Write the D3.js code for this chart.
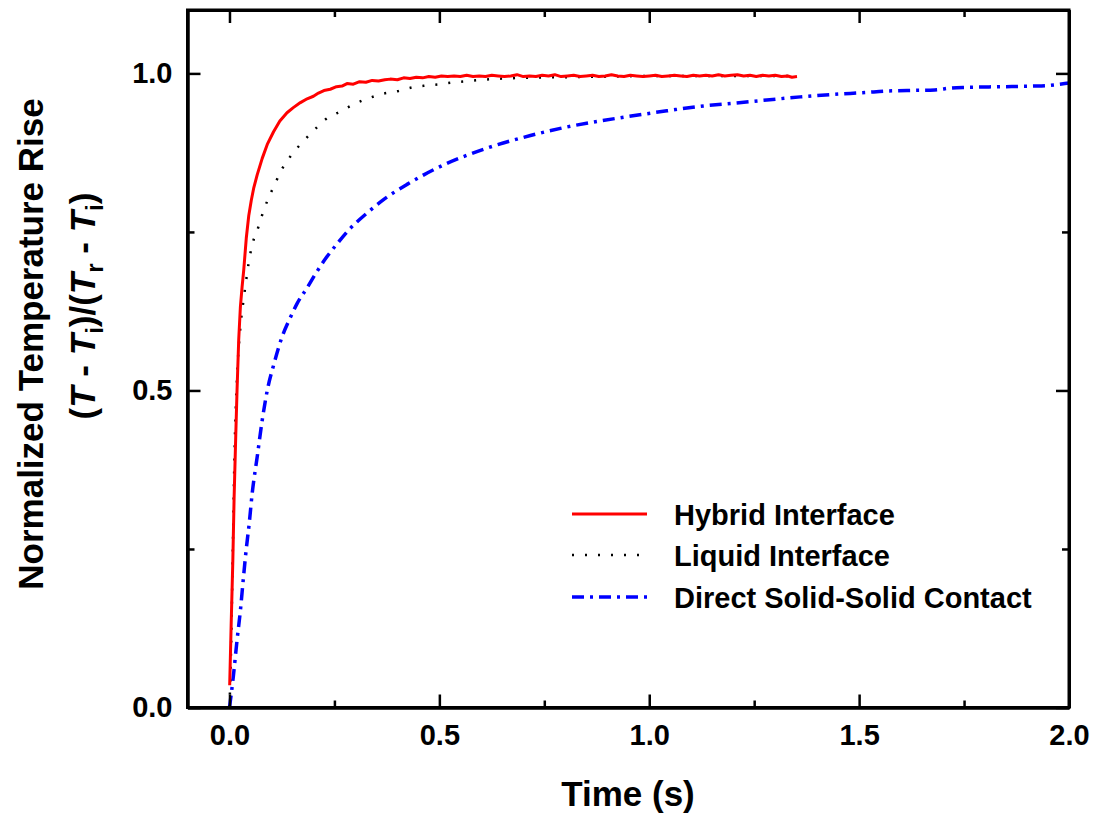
<!DOCTYPE html>
<html>
<head>
<meta charset="utf-8">
<script src="https://cdn.jsdelivr.net/npm/d3@7"></script>
<style>
  body { margin: 0; background: #fff; }
  svg text { font-family: "Liberation Sans", Arial, Helvetica, sans-serif; font-weight: bold; }
</style>
</head>
<body>
<svg id="chart" width="1094" height="818"></svg>
<script>
// ---- data: [time (s), normalized rise] ----
const hybrid = [
  [0.0005, 0.035], [0.004, 0.13], [0.008, 0.232], [0.011, 0.33], [0.015, 0.43],
  [0.018, 0.50], [0.022, 0.58], [0.026, 0.632], [0.030, 0.663], [0.034, 0.69],
  [0.040, 0.74], [0.046, 0.776], [0.052, 0.80], [0.058, 0.820], [0.066, 0.84],
  [0.078, 0.866], [0.090, 0.888], [0.105, 0.908], [0.120, 0.925], [0.137, 0.938],
  [0.152, 0.946], [0.169, 0.954], [0.185, 0.960], [0.200, 0.964], [0.212, 0.969],
  [0.225, 0.973], [0.240, 0.975], [0.255, 0.979], [0.268, 0.980], [0.280, 0.984],
  [0.295, 0.983], [0.310, 0.987], [0.325, 0.986], [0.340, 0.989], [0.355, 0.988],
  [0.370, 0.990], [0.383, 0.991], [0.400, 0.990], [0.415, 0.993], [0.430, 0.992],
  [0.445, 0.994], [0.460, 0.993], [0.475, 0.995], [0.490, 0.994], [0.505, 0.996],
  [0.520, 0.995], [0.535, 0.996], [0.550, 0.995], [0.565, 0.997], [0.580, 0.995],
  [0.595, 0.996], [0.610, 0.995], [0.625, 0.997], [0.640, 0.996], [0.655, 0.995],
  [0.670, 0.996], [0.685, 0.998], [0.700, 0.995], [0.715, 0.996], [0.730, 0.995],
  [0.745, 0.997], [0.760, 0.996], [0.775, 0.998], [0.790, 0.995], [0.805, 0.996],
  [0.820, 0.997], [0.835, 0.995], [0.850, 0.996], [0.865, 0.997], [0.880, 0.995],
  [0.895, 0.996], [0.910, 0.998], [0.925, 0.996], [0.940, 0.995], [0.955, 0.997],
  [0.970, 0.996], [0.985, 0.995], [1.000, 0.996], [1.015, 0.997], [1.030, 0.995],
  [1.045, 0.996], [1.060, 0.997], [1.075, 0.996], [1.090, 0.995], [1.105, 0.997],
  [1.120, 0.996], [1.135, 0.997], [1.150, 0.996], [1.165, 0.998], [1.180, 0.996],
  [1.195, 0.997], [1.210, 0.998], [1.225, 0.996], [1.240, 0.997], [1.255, 0.995],
  [1.270, 0.997], [1.285, 0.996], [1.300, 0.997], [1.315, 0.995], [1.330, 0.996],
  [1.340, 0.994], [1.352, 0.995]
];

const liquid = [
  [0.000, 0.00], [0.004, 0.10], [0.008, 0.25], [0.012, 0.40], [0.018, 0.52],
  [0.026, 0.60], [0.034, 0.645], [0.038, 0.665], [0.048, 0.710], [0.056, 0.734],
  [0.068, 0.756], [0.079, 0.779], [0.092, 0.802], [0.108, 0.825], [0.124, 0.848],
  [0.145, 0.869], [0.173, 0.891], [0.201, 0.910], [0.230, 0.928], [0.264, 0.940],
  [0.298, 0.952], [0.332, 0.961], [0.366, 0.968], [0.401, 0.972], [0.435, 0.978],
  [0.469, 0.981], [0.502, 0.983], [0.536, 0.986], [0.570, 0.988], [0.604, 0.990],
  [0.700, 0.993], [0.800, 0.994], [0.900, 0.995], [1.000, 0.996], [1.200, 0.996],
  [1.352, 0.996]
];

const direct = [
  [0.000, 0.000], [0.004, 0.020], [0.009, 0.048], [0.018, 0.106], [0.026, 0.153],
  [0.033, 0.203], [0.040, 0.250], [0.047, 0.290], [0.054, 0.337], [0.066, 0.395],
  [0.078, 0.453], [0.090, 0.500], [0.106, 0.542], [0.125, 0.584], [0.145, 0.615],
  [0.161, 0.637], [0.185, 0.662], [0.207, 0.686], [0.229, 0.708], [0.256, 0.731],
  [0.284, 0.753], [0.328, 0.780], [0.367, 0.801], [0.423, 0.825], [0.463, 0.840],
  [0.518, 0.858], [0.566, 0.871], [0.617, 0.883], [0.717, 0.902], [0.800, 0.915],
  [0.883, 0.925], [0.950, 0.932], [1.042, 0.941], [1.120, 0.948], [1.201, 0.953],
  [1.280, 0.958], [1.360, 0.963], [1.440, 0.967], [1.518, 0.970], [1.560, 0.972],
  [1.614, 0.973], [1.680, 0.974], [1.720, 0.977], [1.756, 0.978], [1.836, 0.979],
  [1.914, 0.980], [1.950, 0.981], [1.990, 0.984], [2.000, 0.985]
];

const xMajor = [0, 0.5, 1.0, 1.5, 2.0];
const xMinor = [0.25, 0.75, 1.25, 1.75];
const yMajor = [0, 0.5, 1.0];
const yMinor = [0.25, 0.75];

const seriesNames = ["Hybrid Interface", "Liquid Interface", "Direct Solid-Solid Contact"];

// ---- layout ----
const plot = { left: 187.5, right: 1069, top: 10, bottom: 707.5 };

const svg = d3.select("#chart");

const x = d3.scaleLinear().domain([-0.1, 2.0]).range([plot.left, plot.right]);
const y = d3.scaleLinear().domain([0, 1.1]).range([plot.bottom, plot.top]);

const styles = [
  { color: "#ff0000", width: 3, dash: null },
  { color: "#000000", width: 2.5, dash: "2,11" },
  { color: "#0000ff", width: 3.5, dash: "12,6,3,6" }
];

const line = d3.line().x(d => x(d[0])).y(d => y(d[1]));
const smoothLine = d3.line().curve(d3.curveMonotoneX).x(d => x(d[0])).y(d => y(d[1]));

// curves (blue and black first so red sits on top, like the original)
const curves = svg.append("g");
[[direct, 2, smoothLine], [liquid, 1, smoothLine], [hybrid, 0, line]].forEach(([data, k, gen]) => {
  const s = styles[k];
  curves.append("path")
    .datum(data)
    .attr("d", gen)
    .attr("fill", "none")
    .attr("stroke", s.color)
    .attr("stroke-width", s.width)
    .attr("stroke-dasharray", s.dash)
    .attr("stroke-linejoin", "round");
});

// axes: ticks point into the plot on all four sides
function styleAxis(g) {
  g.select(".domain").attr("stroke-width", 3);
  g.selectAll(".tick line").attr("stroke-width", 2.5);
  g.selectAll(".tick text")
    .attr("font-size", 29)
    .attr("fill", "#000");
}

const axisG = svg.append("g");

axisG.append("g")
  .attr("transform", `translate(0,${plot.bottom})`)
  .call(d3.axisBottom(x).tickValues(xMajor).tickSize(-13).tickSizeOuter(0)
    .tickPadding(17).tickFormat(d3.format(".1f")))
  .call(styleAxis);
axisG.append("g")
  .attr("transform", `translate(0,${plot.bottom})`)
  .call(d3.axisBottom(x).tickValues(xMinor).tickSize(-7).tickSizeOuter(0).tickFormat(""))
  .call(styleAxis);

axisG.append("g")
  .attr("transform", `translate(0,${plot.top})`)
  .call(d3.axisTop(x).tickValues(xMajor).tickSize(-13).tickSizeOuter(0).tickFormat(""))
  .call(styleAxis);
axisG.append("g")
  .attr("transform", `translate(0,${plot.top})`)
  .call(d3.axisTop(x).tickValues(xMinor).tickSize(-7).tickSizeOuter(0).tickFormat(""))
  .call(styleAxis);

axisG.append("g")
  .attr("transform", `translate(${plot.left},0)`)
  .call(d3.axisLeft(y).tickValues(yMajor).tickSize(-13).tickSizeOuter(0)
    .tickPadding(15).tickFormat(d3.format(".1f")))
  .call(styleAxis);
axisG.append("g")
  .attr("transform", `translate(${plot.left},0)`)
  .call(d3.axisLeft(y).tickValues(yMinor).tickSize(-7).tickSizeOuter(0).tickFormat(""))
  .call(styleAxis);

axisG.append("g")
  .attr("transform", `translate(${plot.right},0)`)
  .call(d3.axisRight(y).tickValues(yMajor).tickSize(-13).tickSizeOuter(0).tickFormat(""))
  .call(styleAxis);
axisG.append("g")
  .attr("transform", `translate(${plot.right},0)`)
  .call(d3.axisRight(y).tickValues(yMinor).tickSize(-7).tickSizeOuter(0).tickFormat(""))
  .call(styleAxis);

// close the frame corners
axisG.append("rect")
  .attr("x", plot.left).attr("y", plot.top)
  .attr("width", plot.right - plot.left).attr("height", plot.bottom - plot.top)
  .attr("fill", "none").attr("stroke", "#000").attr("stroke-width", 3);

// axis titles
svg.append("text")
  .attr("x", 628).attr("y", 806)
  .attr("text-anchor", "middle")
  .attr("font-size", 35)
  .text("Time (s)");

svg.append("text")
  .attr("transform", "translate(43,344) rotate(-90)")
  .attr("text-anchor", "middle")
  .attr("font-size", 35)
  .text("Normalized Temperature Rise");

const yl2 = svg.append("text")
  .attr("transform", "translate(95,306) rotate(-90)")
  .attr("text-anchor", "middle")
  .attr("font-size", 35);
yl2.append("tspan").text("(");
yl2.append("tspan").attr("font-style", "italic").text("T");
yl2.append("tspan").text(" - ");
yl2.append("tspan").attr("font-style", "italic").text("T");
yl2.append("tspan").attr("font-size", 24).attr("dy", 8).text("i");
yl2.append("tspan").attr("dy", -8).text(")/(");
yl2.append("tspan").attr("font-style", "italic").text("T");
yl2.append("tspan").attr("font-size", 24).attr("dy", 8).text("r");
yl2.append("tspan").attr("dy", -8).text(" - ");
yl2.append("tspan").attr("font-style", "italic").text("T");
yl2.append("tspan").attr("font-size", 24).attr("dy", 8).text("i");
yl2.append("tspan").attr("dy", -8).text(")");

// legend
const legend = svg.append("g");
const legendY = [514, 555, 597];
seriesNames.forEach((name, i) => {
  const s = styles[i];
  legend.append("line")
    .attr("x1", 572).attr("x2", 647)
    .attr("y1", legendY[i]).attr("y2", legendY[i])
    .attr("stroke", s.color)
    .attr("stroke-width", s.width)
    .attr("stroke-dasharray", s.dash);
  legend.append("text")
    .attr("x", 674).attr("y", legendY[i] + 11)
    .attr("font-size", 29)
    .text(name);
});
</script>
</body>
</html>
